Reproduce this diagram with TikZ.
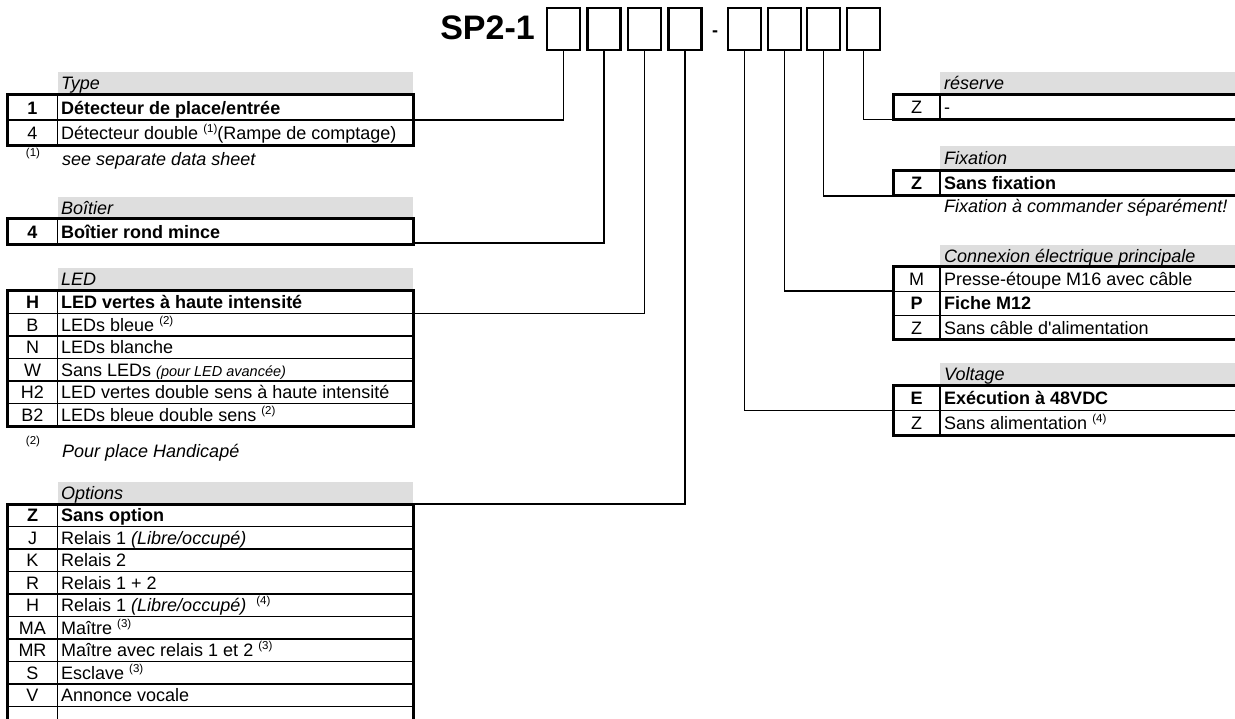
\documentclass[tikz,border=0pt]{standalone}
\usepackage{fontspec}
\setmainfont{Liberation Sans}

\newcommand{\supnum}[1]{\raisebox{7pt}{\fontsize{11.5}{11.5}\selectfont(#1)}}

\begin{document}
\begin{tikzpicture}[x=1pt,y=-1pt,
    font=\fontsize{18}{21}\selectfont,
    frame/.style={line width=3pt},
    rule/.style={line width=1.5pt},
    wire/.style={line width=1.8pt},
    band/.style={fill=black!13},
    cell/.style={inner sep=0pt,text height=12.9pt,text depth=0pt},
    entry/.style={cell,anchor=west},
    head/.style={entry,font=\fontsize{18}{21}\selectfont\itshape},
    note/.style={inner sep=0pt,anchor=base west,font=\fontsize{18}{21}\selectfont\itshape},
    fnmark/.style={inner sep=0pt,anchor=base,font=\fontsize{11.5}{11.5}\selectfont},
    digit/.style={draw,line width=2.5pt,minimum width=33pt,minimum height=42pt,inner sep=0pt},
  ]
    \useasboundingbox (0,0) rectangle (1235,719);
    \clip (0,0) rectangle (1235,719);
    %%
    %% order code
    \node[anchor=base east,inner sep=0pt,font=\fontsize{34}{34}\selectfont\bfseries] (sp) at (535,40) {SP2-1};
    \foreach \x [count=\i] in {563.5,604,644.5,685,744.5,784.5,823.5,863.5}
    {
    \node[digit] (b\i) at (\x,29) {};
    }
    \node[inner sep=0pt,anchor=base,font=\fontsize{18}{21}\selectfont\bfseries] (dash) at (715,36.5) {-};
    %%
    %% Type
    \fill[band] (57.5,72) rectangle (413,95);
    \node[head] (type) at (61,83.5) {Type};
    \draw[frame] (7.5,95) rectangle (413,146);
    \draw[rule] (57.5,95) -- (57.5,146) (7.5,120) -- (413,120);
    \foreach \cd/\ds [count=\i from 0] in {\textbf{1}/{\textbf{Détecteur de place/entrée}},4/{Détecteur double \supnum{1}(Rampe de comptage)}}
    {
    \node[cell] (type-c\i) at (32.5,{95+25.5*(\i+0.5)}) {\cd};
    \node[entry] (type-d\i) at (61,{95+25.5*(\i+0.5)}) {\ds};
    }
    \node[fnmark] (fn1) at (33,157) {(1)};
    \node[note] (fn1-t) at (62,165.5) {see separate data sheet};
    %%
    %% Boitier
    \fill[band] (57.5,197) rectangle (413,219);
    \node[head] (boit) at (61,208) {Boîtier};
    \draw[frame] (7.5,219) rectangle (413,245);
    \draw[rule] (57.5,219) -- (57.5,245);
    \node[cell] (boit-c0) at (32.5,232) {\textbf{4}};
    \node[entry] (boit-d0) at (61,232) {\textbf{Boîtier rond mince}};
    %%
    %% LED
    \fill[band] (57.5,268) rectangle (413,291);
    \node[head] (led) at (61,279.5) {LED};
    \draw[frame] (7.5,291) rectangle (413,426);
    \draw[rule] (57.5,291) -- (57.5,426);
    \foreach \k in {1,...,5} \draw[rule] (7.5,{291+22.5*\k}) -- (413,{291+22.5*\k});
    \foreach \cd/\ds [count=\i from 0] in {\textbf{H}/{\textbf{LED vertes à haute intensité}},B/{LEDs bleue \supnum{2}},N/{LEDs blanche},W/{Sans LEDs {\fontsize{14.5}{16}\selectfont\itshape(pour LED avancée)}},H2/{LED vertes double sens à haute intensité},B2/{LEDs bleue double sens \supnum{2}}}
    {
    \node[cell] (led-c\i) at (32.5,{291+22.5*(\i+0.5)}) {\cd};
    \node[entry] (led-d\i) at (61,{291+22.5*(\i+0.5)}) {\ds};
    }
    \node[fnmark] (fn2) at (33,444) {(2)};
    \node[note] (fn2-t) at (62,457) {Pour place Handicapé};
    %%
    %% Options
    \fill[band] (57.5,482) rectangle (413,504);
    \node[head] (opt) at (61,493) {Options};
    \draw[frame] (7.5,504) rectangle (413,760);
    \draw[rule] (57.5,504) -- (57.5,760);
    \foreach \k in {1,...,9} \draw[rule] (7.5,{504+22.5*\k}) -- (413,{504+22.5*\k});
    \foreach \cd/\ds [count=\i from 0] in {\textbf{Z}/{\textbf{Sans option}},J/{Relais 1 \textit{(Libre/occupé)}},K/{Relais 2},R/{Relais 1 + 2},H/{Relais 1 \textit{(Libre/occupé)}\hspace{10pt}\supnum{4}},MA/{Maître \supnum{3}},MR/{Maître avec relais 1 et 2 \supnum{3}},S/{Esclave \supnum{3}},V/{Annonce vocale}}
    {
    \node[cell] (opt-c\i) at (32.5,{504+22.5*(\i+0.5)}) {\cd};
    \node[entry] (opt-d\i) at (61,{504+22.5*(\i+0.5)}) {\ds};
    }
    %%
    %% reserve
    \fill[band] (940,72) rectangle (1260,95);
    \node[head] (res) at (944,83.5) {réserve};
    \draw[frame] (893,95) rectangle (1260,120);
    \draw[rule] (940,95) -- (940,120);
    \node[cell] (res-c0) at (916.5,107.5) {Z};
    \node[entry] (res-d0) at (944,107.5) {-};
    %%
    %% Fixation
    \fill[band] (940,146) rectangle (1260,171);
    \node[head] (fix) at (944,158.5) {Fixation};
    \draw[frame] (893,171) rectangle (1260,196);
    \draw[rule] (940,171) -- (940,196);
    \node[cell] (fix-c0) at (916.5,183.5) {\textbf{Z}};
    \node[entry] (fix-d0) at (944,183.5) {\textbf{Sans fixation}};
    \node[note] (fix-t) at (944,213) {Fixation à commander séparément!};
    %%
    %% Connexion
    \fill[band] (940,245) rectangle (1260,267);
    \node[head] (conn) at (944,256) {Connexion électrique principale};
    \draw[frame] (893,267) rectangle (1260,340);
    \draw[rule] (940,267) -- (940,340);
    \foreach \k in {1,2} \draw[rule] (893,{267+24.33*\k}) -- (1260,{267+24.33*\k});
    \foreach \cd/\ds [count=\i from 0] in {M/{Presse-étoupe M16 avec câble},\textbf{P}/{\textbf{Fiche M12}},Z/{Sans câble d\textquotesingle alimentation}}
    {
    \node[cell] (conn-c\i) at (916.5,{267+24.33*(\i+0.5)}) {\cd};
    \node[entry] (conn-d\i) at (944,{267+24.33*(\i+0.5)}) {\ds};
    }
    %%
    %% Voltage
    \fill[band] (940,363) rectangle (1260,386);
    \node[head] (volt) at (944,374.5) {Voltage};
    \draw[frame] (893,386) rectangle (1260,435);
    \draw[rule] (940,386) -- (940,435) (893,410.5) -- (1260,410.5);
    \node[cell] (volt-c0) at (916.5,398.2) {\textbf{E}};
    \node[entry] (volt-d0) at (944,398.2) {\textbf{Exécution à 48VDC}};
    \node[cell] (volt-c1) at (916.5,422.7) {Z};
    \node[entry] (volt-d1) at (944,422.7) {Sans alimentation \supnum{4}};
    %%
    %% connectors
    \coordinate (type-j) at (413,120);
    \coordinate (boit-j) at (413,243);
    \coordinate (led-j) at (413,313.5);
    \coordinate (opt-j) at (413,504);
    \coordinate (volt-j) at (893,410.5);
    \coordinate (conn-j) at (893,291.3);
    \coordinate (fix-j) at (893,196);
    \coordinate (res-j) at (893,119.5);
    \draw[wire]
    (b1.south) |- (type-j)
    (b2.south) |- (boit-j)
    (b3.south) |- (led-j)
    (b4.south) |- (opt-j)
    (b5.south) |- (volt-j)
    (b6.south) |- (conn-j)
    (b7.south) |- (fix-j)
    (b8.south) |- (res-j)
    ;
\end{tikzpicture}
\end{document}
